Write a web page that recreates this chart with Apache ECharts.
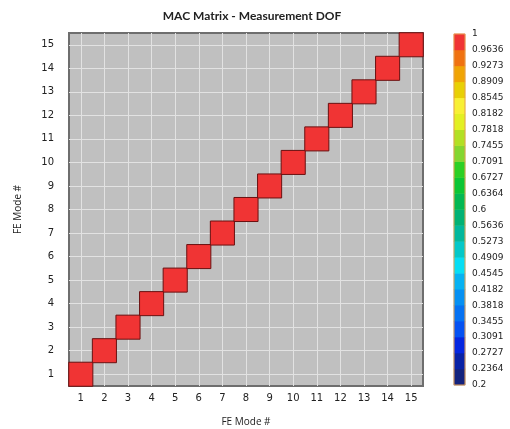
<!DOCTYPE html>
<html>
<head>
<meta charset="utf-8">
<script src="https://cdn.jsdelivr.net/npm/echarts@6/dist/echarts.min.js"></script>
<style>
html,body{margin:0;padding:0;background:#fff;}
#main{width:510px;height:429px;}
</style>
</head>
<body>
<div id="main"></div>
<script>
// modes 1..15
var modes = ['1','2','3','4','5','6','7','8','9','10','11','12','13','14','15'];
// MAC values: diagonal 1, off-diagonal below the 0.2 colour range
var macDiag = [1,1,1,1,1,1,1,1,1,1,1,1,1,1,1];
var macOff = 0;
// colour bar tick labels, bottom to top
var barTicks = ['0.2','0.2364','0.2727','0.3091','0.3455','0.3818','0.4182','0.4545','0.4909','0.5273','0.5636','0.6',
  '0.6364','0.6727','0.7091','0.7455','0.7818','0.8182','0.8545','0.8909','0.9273','0.9636','1'];
// band colours, bottom to top
var barColors = ['#14237e','#0a22a6','#0626e0','#0652f2','#0672f2','#0690f2','#06b2f2','#06def4','#04c8c8','#02b89c',
  '#02b274','#04b852','#0cc634','#2cd024','#84d630','#b2e024','#e2f022','#f8f034','#e8d004','#f0a404','#f07210','#f03434'];

var pieces = [];
for (var i = 0; i < barColors.length; i++) {
  var p = {gte: parseFloat(barTicks[i]), color: barColors[i]};
  if (i < barColors.length - 1) p.lt = parseFloat(barTicks[i + 1]); else p.lte = parseFloat(barTicks[i + 1]);
  pieces.push(p);
}

var macData = [];
for (var x = 0; x < modes.length; x++) {
  for (var y = 0; y < modes.length; y++) {
    macData.push([x, y, x === y ? macDiag[x] : macOff]);
  }
}

var bandIdx = [];
var barData = [];
for (var k = 0; k < barColors.length; k++) {
  bandIdx.push(String(k));
  barData.push([0, k, (parseFloat(barTicks[k]) + parseFloat(barTicks[k + 1])) / 2]);
}

var chart = echarts.init(document.getElementById('main'));
chart.setOption({
  animation: false,
  title: {
    text: 'MAC Matrix - Measurement DOF',
    left: 247, top: 5, textAlign: 'center',
    textStyle: {fontFamily: 'Lato', fontSize: 12, fontWeight: 'bold', color: '#222'}
  },
  grid: [
    {left: 69, top: 33, width: 354, height: 353, outerBoundsMode: 'none', show: true, backgroundColor: '#c0c0c0', borderColor: '#6e6e6e', borderWidth: 2},
    {left: 454, top: 34, width: 11, height: 351, outerBoundsMode: 'none', show: true, z: 5, backgroundColor: 'transparent', borderColor: '#e4a050', borderWidth: 1}
  ],
  xAxis: [
    {
      type: 'category', data: modes, gridIndex: 0,
      name: 'FE Mode #', nameLocation: 'middle', nameGap: 31,
      nameTextStyle: {fontFamily: 'Open Sans', fontSize: 10, color: '#222'},
      axisLine: {show: false}, axisTick: {show: false},
      axisLabel: {fontFamily: 'DejaVu Sans', fontSize: 10, color: '#222', margin: 7},
      splitLine: {show: true, alignWithLabel: true, lineStyle: {color: '#e2e2e2', width: 1}}
    },
    {type: 'category', data: ['c'], gridIndex: 1, show: false}
  ],
  yAxis: [
    {
      type: 'category', data: modes, gridIndex: 0,
      name: 'FE Mode #', nameLocation: 'middle', nameGap: 46, nameRotate: 90,
      nameTextStyle: {fontFamily: 'Open Sans', fontSize: 10, color: '#222'},
      axisLine: {show: false}, axisTick: {show: false},
      axisLabel: {fontFamily: 'DejaVu Sans', fontSize: 10, color: '#222', margin: 15},
      splitLine: {show: true, alignWithLabel: true, lineStyle: {color: '#e2e2e2', width: 1}}
    },
    {type: 'category', data: bandIdx, gridIndex: 1, show: false},
    {
      type: 'value', gridIndex: 1, min: 0, max: 22, interval: 1, position: 'right',
      axisLine: {show: false}, axisTick: {show: false}, splitLine: {show: false},
      axisLabel: {
        fontFamily: 'DejaVu Sans', fontSize: 9, color: '#222', margin: 7,
        formatter: function (v) { return barTicks[Math.round(v)]; }
      }
    }
  ],
  visualMap: {
    type: 'piecewise', show: false, seriesIndex: [0, 1], dimension: 2,
    pieces: pieces,
    outOfRange: {opacity: 0}
  },
  series: [
    {
      type: 'heatmap', xAxisIndex: 0, yAxisIndex: 0, data: macData,
      itemStyle: {borderColor: '#6a1010', borderWidth: 1}
    },
    {
      type: 'heatmap', xAxisIndex: 1, yAxisIndex: 1, data: barData
    }
  ]
});
</script>
</body>
</html>
